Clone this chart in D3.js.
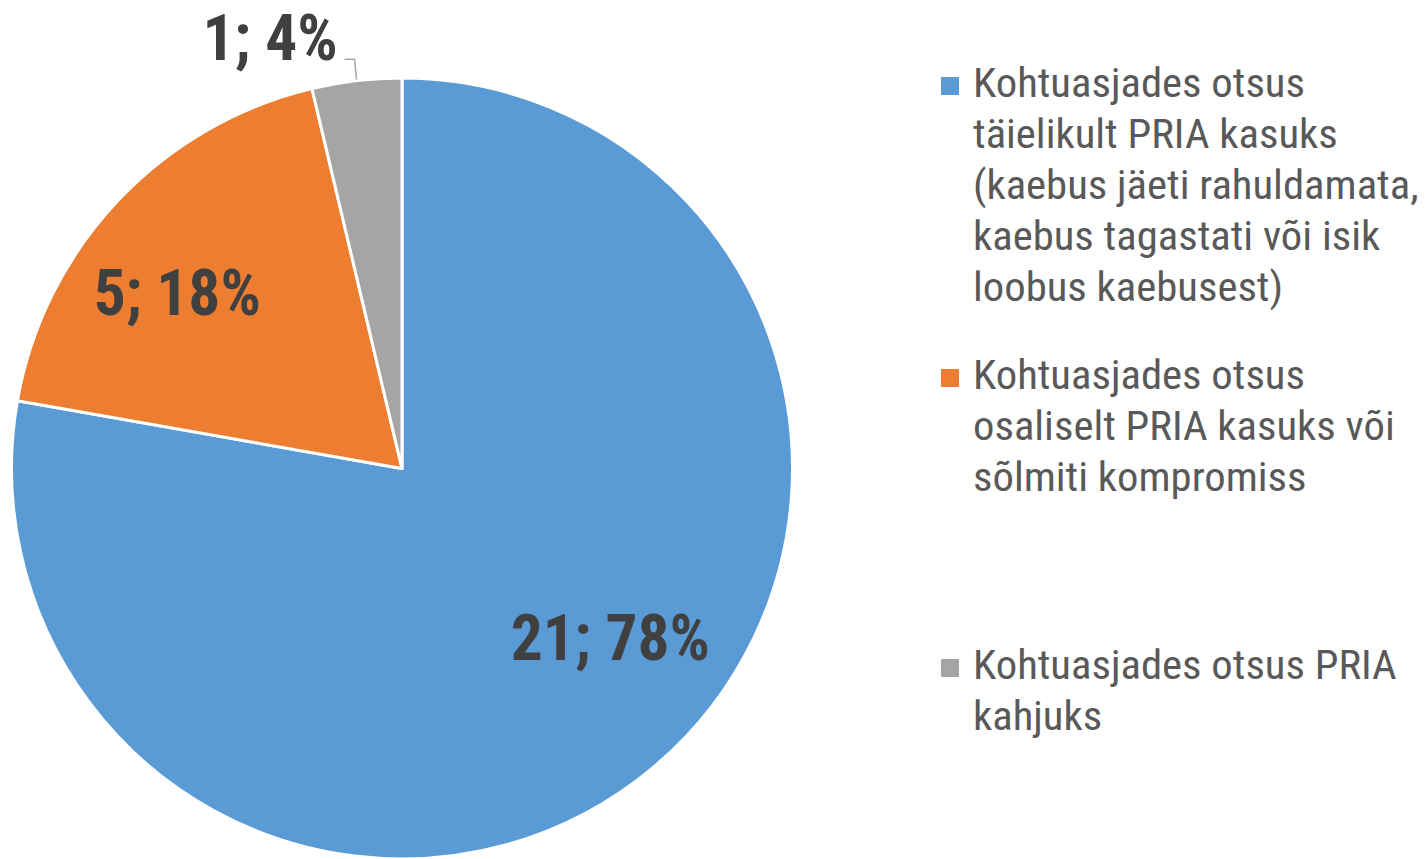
<!DOCTYPE html>
<html>
<head>
<meta charset="utf-8">
<script src="https://cdn.jsdelivr.net/npm/d3@7"></script>
<style>
  html, body { margin: 0; padding: 0; background: #fff; }
  svg { display: block; }
  text { font-family: "Roboto Condensed", Roboto, "Liberation Sans", sans-serif; }
</style>
</head>
<body>
<svg id="chart" width="1427" height="859"></svg>
<script>
// ---- data ----
const categories = [
  "Kohtuasjades otsus täielikult PRIA kasuks (kaebus jäeti rahuldamata, kaebus tagastati või isik loobus kaebusest)",
  "Kohtuasjades otsus osaliselt PRIA kasuks või sõlmiti kompromiss",
  "Kohtuasjades otsus PRIA kahjuks"
];
const legendLines = [
  ["Kohtuasjades otsus", "täielikult PRIA kasuks", "(kaebus jäeti rahuldamata,", "kaebus tagastati või isik", "loobus kaebusest)"],
  ["Kohtuasjades otsus", "osaliselt PRIA kasuks või", "sõlmiti kompromiss"],
  ["Kohtuasjades otsus PRIA", "kahjuks"]
];
const values = [21, 5, 1];
const colors = ["#5B9BD5", "#ED7D31", "#A5A5A5"];

// ---- layout ----
const W = 1427, H = 859;
const cx = 402, cy = 468.5, R = 390.5;
const labelScaleX = 0.99;
const legendScaleX = 1.067;
// label placement (polar: angle in degrees clockwise from top, distance from centre)
const labelPolar = [
  { a: 129.0, d: 268 },
  { a: 308.2, d: 286 },
  { a: 343.0, d: 451 }
];
const legendX = 941, legendTextX = 973, legendLineH = 51;
const legendTops = [97, 389, 679];

const svg = d3.select("#chart");
const total = d3.sum(values);

// percentages rounded so they add up to 100 (largest remainder)
const raw = values.map(v => v / total * 100);
const pct = raw.map(Math.floor);
let rest = 100 - d3.sum(pct);
raw.map((r, i) => ({ i, f: r - Math.floor(r) }))
  .sort((a, b) => b.f - a.f)
  .slice(0, rest)
  .forEach(o => pct[o.i] += 1);

const pie = d3.pie().sort(null).value(d => d);
const arcs = pie(values);
const arc = d3.arc().innerRadius(0).outerRadius(R);

const g = svg.append("g").attr("transform", `translate(${cx},${cy})`);
g.selectAll("path.slice")
  .data(arcs)
  .join("path")
  .attr("class", "slice")
  .attr("d", arc)
  .attr("fill", (d, i) => colors[i])
  .attr("stroke", "#fff")
  .attr("stroke-width", 3)
  .attr("stroke-linejoin", "round");

// data labels
const labelPos = labelPolar.map(p => {
  const rad = p.a * Math.PI / 180;
  return [p.d * Math.sin(rad), -p.d * Math.cos(rad) + 23];
});
const labelG = g.selectAll("g.lbl")
  .data(arcs)
  .join("g")
  .attr("class", "lbl")
  .attr("transform", (d, i) => `translate(${labelPos[i][0]},${labelPos[i][1]}) scale(${labelScaleX},1)`);
labelG.append("text")
  .attr("text-anchor", "middle")
  .attr("font-size", 64)
  .attr("font-weight", 700)
  .attr("fill", "#404040")
  .text((d, i) => `${d.data}; ${pct[i]}%`);

// leader line for the small slice
{
  const d = arcs[2];
  const mid = (d.startAngle + d.endAngle) / 2;
  const ex = (R + 1) * Math.sin(mid), ey = -(R + 1) * Math.cos(mid);
  const tnode = labelG.filter((d, i) => i === 2).select("text").node();
  const bb = tnode.getBBox();
  const lx = labelPos[2][0] + (bb.x + bb.width) * labelScaleX + 7;
  const ly = labelPos[2][1] - 1;
  g.append("path")
    .attr("d", `M${lx},${ly} H${ex - 2} L${ex},${ey}`)
    .attr("fill", "none")
    .attr("stroke", "#A6A6A6")
    .attr("stroke-width", 1.5);
}

// legend
const leg = svg.selectAll("g.leg")
  .data(categories)
  .join("g")
  .attr("class", "leg");
leg.append("rect")
  .attr("x", legendX)
  .attr("y", (d, i) => legendTops[i] - 20)
  .attr("width", 18)
  .attr("height", 18)
  .attr("fill", (d, i) => colors[i]);
leg.each(function(d, i) {
  const t = d3.select(this).append("g")
    .attr("transform", `translate(${legendTextX},${legendTops[i]}) scale(${legendScaleX},1)`)
    .append("text")
    .attr("font-size", 40)
    .attr("fill", "#595959");
  legendLines[i].forEach((line, k) => {
    t.append("tspan").attr("x", 0).attr("y", k * legendLineH).text(line);
  });
});
</script>
</body>
</html>
